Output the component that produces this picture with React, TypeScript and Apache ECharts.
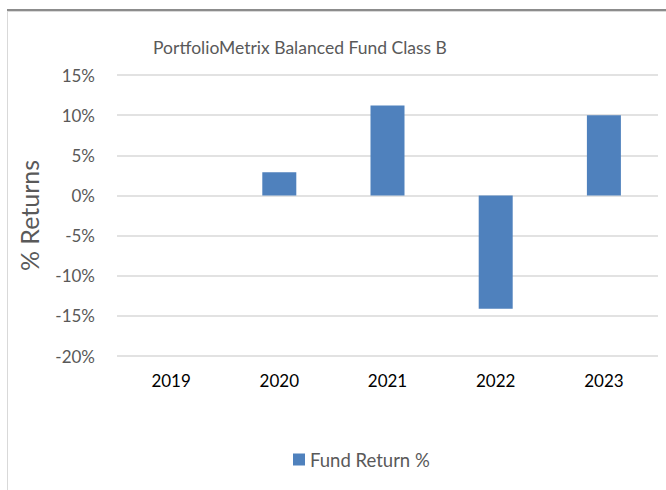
import React, { useEffect, useRef } from "react";
import * as echarts from "echarts";

const title = "PortfolioMetrix Balanced Fund Class B";
const categories = ["2019", "2020", "2021", "2022", "2023"];
const fundReturns: (number | null)[] = [null, 2.9, 11.2, -14.1, 10.0];
const seriesName = "Fund Return %";
const yAxisName = "% Returns";

const FONT = "Lato, 'Open Sans', sans-serif";

export default function App() {
  const ref = useRef<HTMLDivElement>(null);
  useEffect(() => {
    if (!ref.current) return;
    const chart = echarts.init(ref.current, null, { renderer: "svg" });
    chart.setOption({
      animation: false,
      backgroundColor: "#ffffff",
      textStyle: { fontFamily: FONT },
      title: {
        text: title,
        left: 295,
        top: 33,
        textAlign: "center",
        textStyle: { fontFamily: FONT, fontSize: 17.5, fontWeight: "normal", color: "#595959" },
      },
      legend: {
        data: [seriesName],
        left: 288,
        top: 445,
        itemWidth: 12,
        itemHeight: 12,
        itemGap: 6,
        icon: "rect",
        textStyle: { fontFamily: FONT, fontSize: 18.5, color: "#595959" },
      },
      graphic: [
        { type: "rect", shape: { x: 7, y: 9, width: 659, height: 2 }, style: { fill: "#8c8c8c" } },
        { type: "rect", shape: { x: 7, y: 11, width: 659, height: 1 }, style: { fill: "#d9d9d9" } },
        { type: "rect", shape: { x: 7, y: 11, width: 1, height: 479 }, style: { fill: "#d9d9d9" } },
      ],
      grid: { left: 117, right: 8, top: 75, bottom: 134, containLabel: false },
      xAxis: {
        type: "category",
        data: categories,
        axisLine: { show: false },
        axisTick: { show: false },
        axisLabel: { fontFamily: FONT, fontSize: 17, color: "#000000", margin: 16 },
      },
      yAxis: {
        type: "value",
        min: -20,
        max: 15,
        interval: 5,
        name: yAxisName,
        nameLocation: "middle",
        nameGap: 76,
        nameTextStyle: { fontFamily: FONT, fontSize: 25, color: "#595959" },
        axisLine: { show: false },
        axisTick: { show: false },
        axisLabel: {
          fontFamily: FONT,
          fontSize: 17,
          color: "#595959",
          margin: 22,
          formatter: (v: number) => `${v}%`,
        },
        splitLine: { lineStyle: { color: "#d9d9d9", width: 1.5 } },
      },
      series: [
        {
          name: seriesName,
          type: "bar",
          data: fundReturns,
          barWidth: 34,
          itemStyle: { color: "#4f81bd" },
        },
      ],
    });
    return () => chart.dispose();
  }, []);
  return <div ref={ref} style={{ width: 666, height: 490, position: "absolute", left: 0, top: 0 }} />;
}
